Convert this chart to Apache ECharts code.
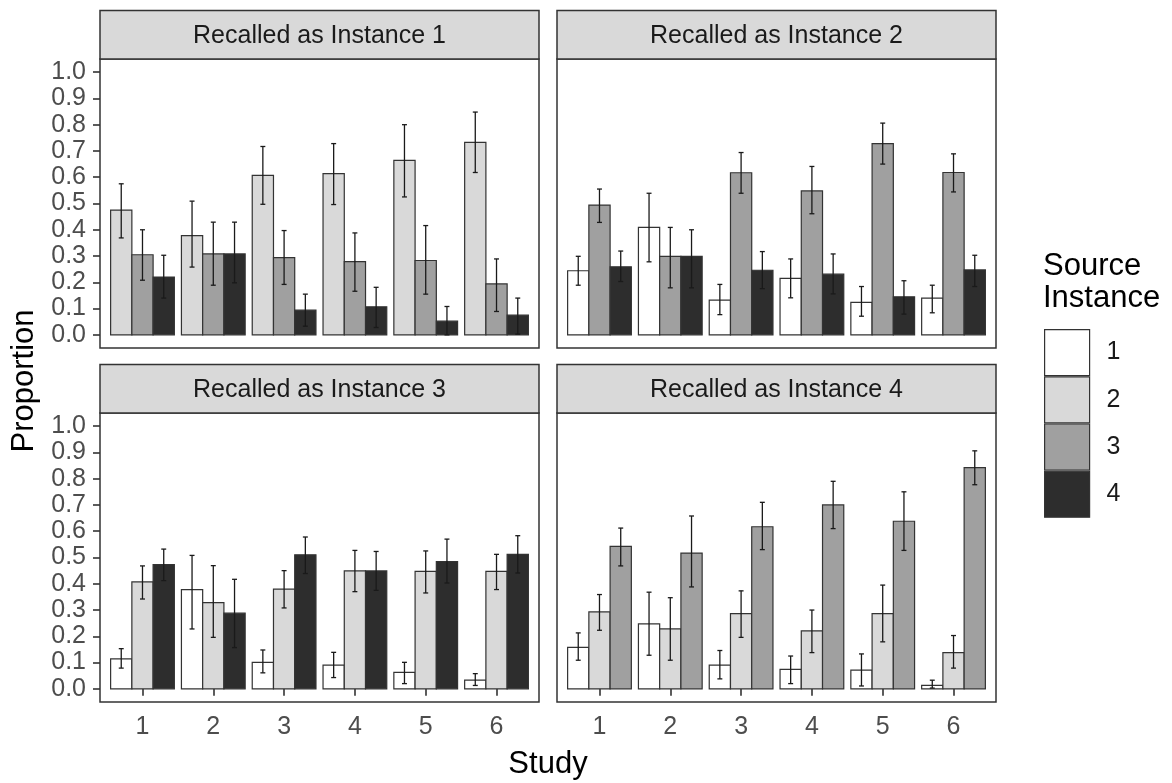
<!DOCTYPE html>
<html>
<head>
<meta charset="utf-8">
<script src="https://cdn.jsdelivr.net/npm/echarts@6/dist/echarts.min.js"></script>
<style>
html,body{margin:0;padding:0;background:#fff;}
#chart{width:1172px;height:783px;}
</style>
</head>
<body>
<div id="chart"></div>
<script>
// ---------- data ----------
const studies = ['1', '2', '3', '4', '5', '6'];
const studyValues = [1, 2, 3, 4, 5, 6];
const yTicks = [0, 0.1, 0.2, 0.3, 0.4, 0.5, 0.6, 0.7, 0.8, 0.9, 1.0];
const yTickLabels = ['0.0', '0.1', '0.2', '0.3', '0.4', '0.5', '0.6', '0.7', '0.8', '0.9', '1.0'];
const panelTitles = ['Recalled as Instance 1', 'Recalled as Instance 2', 'Recalled as Instance 3', 'Recalled as Instance 4'];
const sourceNames = ['1', '2', '3', '4'];
const sourceColors = ['#ffffff', '#d9d9d9', '#a0a0a0', '#2d2d2d'];

// Recalled as Instance 1 (sources 2, 3, 4)
const rec1Src2Mean = [0.475, 0.378, 0.607, 0.614, 0.664, 0.733];
const rec1Src2Lo   = [0.369, 0.258, 0.497, 0.496, 0.525, 0.618];
const rec1Src2Hi   = [0.575, 0.509, 0.717, 0.728, 0.800, 0.848];
const rec1Src3Mean = [0.305, 0.308, 0.294, 0.279, 0.283, 0.194];
const rec1Src3Lo   = [0.208, 0.189, 0.192, 0.166, 0.155, 0.089];
const rec1Src3Hi   = [0.400, 0.429, 0.397, 0.388, 0.416, 0.289];
const rec1Src4Mean = [0.220, 0.308, 0.094, 0.107, 0.052, 0.075];
const rec1Src4Lo   = [0.140, 0.198, 0.033, 0.028, 0.000, 0.003];
const rec1Src4Hi   = [0.303, 0.429, 0.155, 0.181, 0.108, 0.140];

// Recalled as Instance 2 (sources 1, 3, 4)
const rec2Src1Mean = [0.244, 0.409, 0.132, 0.215, 0.124, 0.140];
const rec2Src1Lo   = [0.189, 0.278, 0.077, 0.141, 0.071, 0.084];
const rec2Src1Hi   = [0.299, 0.539, 0.192, 0.289, 0.184, 0.189];
const rec2Src3Mean = [0.494, 0.299, 0.617, 0.548, 0.728, 0.618];
const rec2Src3Lo   = [0.428, 0.179, 0.539, 0.461, 0.650, 0.544];
const rec2Src3Hi   = [0.555, 0.409, 0.694, 0.641, 0.806, 0.689];
const rec2Src4Mean = [0.259, 0.299, 0.246, 0.231, 0.145, 0.247];
const rec2Src4Lo   = [0.203, 0.179, 0.176, 0.156, 0.079, 0.184];
const rec2Src4Hi   = [0.319, 0.400, 0.317, 0.308, 0.206, 0.303];

// Recalled as Instance 3 (sources 1, 2, 4)
const rec3Src1Mean = [0.114, 0.378, 0.101, 0.090, 0.063, 0.033];
const rec3Src1Lo   = [0.079, 0.228, 0.061, 0.043, 0.020, 0.013];
const rec3Src1Hi   = [0.153, 0.508, 0.148, 0.139, 0.101, 0.058];
const rec3Src2Mean = [0.407, 0.328, 0.380, 0.449, 0.447, 0.447];
const rec3Src2Lo   = [0.342, 0.196, 0.308, 0.370, 0.365, 0.378];
const rec3Src2Hi   = [0.468, 0.469, 0.450, 0.527, 0.525, 0.512];
const rec3Src4Mean = [0.473, 0.288, 0.510, 0.449, 0.484, 0.512];
const rec3Src4Lo   = [0.412, 0.157, 0.439, 0.375, 0.403, 0.441];
const rec3Src4Hi   = [0.532, 0.417, 0.578, 0.523, 0.570, 0.583];

// Recalled as Instance 4 (sources 1, 2, 3)
const rec4Src1Mean = [0.158, 0.247, 0.090, 0.074, 0.071, 0.013];
const rec4Src1Lo   = [0.109, 0.128, 0.038, 0.020, 0.011, 0.003];
const rec4Src1Hi   = [0.213, 0.368, 0.146, 0.125, 0.133, 0.033];
const rec4Src2Mean = [0.293, 0.228, 0.286, 0.221, 0.286, 0.138];
const rec4Src2Lo   = [0.223, 0.109, 0.196, 0.138, 0.179, 0.079];
const rec4Src2Hi   = [0.359, 0.347, 0.373, 0.300, 0.395, 0.203];
const rec4Src3Mean = [0.542, 0.517, 0.617, 0.700, 0.638, 0.842];
const rec4Src3Lo   = [0.468, 0.388, 0.530, 0.610, 0.527, 0.777];
const rec4Src3Hi   = [0.612, 0.658, 0.710, 0.790, 0.750, 0.906];

// ---------- assemble ----------
const panels = [
  { sources: [2, 3, 4], mean: [rec1Src2Mean, rec1Src3Mean, rec1Src4Mean], lo: [rec1Src2Lo, rec1Src3Lo, rec1Src4Lo], hi: [rec1Src2Hi, rec1Src3Hi, rec1Src4Hi] },
  { sources: [1, 3, 4], mean: [rec2Src1Mean, rec2Src3Mean, rec2Src4Mean], lo: [rec2Src1Lo, rec2Src3Lo, rec2Src4Lo], hi: [rec2Src1Hi, rec2Src3Hi, rec2Src4Hi] },
  { sources: [1, 2, 4], mean: [rec3Src1Mean, rec3Src2Mean, rec3Src4Mean], lo: [rec3Src1Lo, rec3Src2Lo, rec3Src4Lo], hi: [rec3Src1Hi, rec3Src2Hi, rec3Src4Hi] },
  { sources: [1, 2, 3], mean: [rec4Src1Mean, rec4Src2Mean, rec4Src3Mean], lo: [rec4Src1Lo, rec4Src2Lo, rec4Src3Lo], hi: [rec4Src1Hi, rec4Src2Hi, rec4Src3Hi] }
];

const FONT = '"Liberation Sans", Arial, sans-serif';
const SMALL = 25, LARGE = 31;
const panelLeft = [100, 557, 100, 557];
const panelTop = [59, 59, 413, 413];
const panelW = 439;
const panelH = 289;
const stripH = 48.5;

const dodge = 0.3;     // width of each bar (0.9 / 3)
const capHalf = 0.035; // errorbar half cap width in x units

const grids = [], xAxes = [], yAxes = [], series = [], graphics = [];

panels.forEach((p, pi) => {
  const isBottom = pi >= 2, isLeft = pi % 2 === 0;
  grids.push({ left: panelLeft[pi], top: panelTop[pi], width: panelW, height: panelH,
    show: true, borderColor: '#333333', borderWidth: 1.5, backgroundColor: '#ffffff' });
  xAxes.push({
    type: 'value', gridIndex: pi, min: 0.4, max: 6.6,
    axisLine: { show: false }, splitLine: { show: false },
    axisTick: { show: isBottom, length: 7, customValues: studyValues, lineStyle: { color: '#333333', width: 1.6 } },
    axisLabel: { show: isBottom, customValues: studyValues, margin: 13, fontSize: SMALL, color: '#4d4d4d', fontFamily: FONT,
      formatter: v => studies[Math.round(v) - 1] }
  });
  yAxes.push({
    type: 'value', gridIndex: pi, min: -0.05, max: 1.05,
    axisLine: { show: false }, splitLine: { show: false },
    axisTick: { show: isLeft, length: 7, customValues: yTicks, lineStyle: { color: '#333333', width: 1.6 } },
    axisLabel: { show: isLeft, customValues: yTicks, margin: 14, fontSize: SMALL, color: '#4d4d4d', fontFamily: FONT,
      formatter: v => yTickLabels[Math.round(v * 10)] }
  });

  // bars
  p.sources.forEach((src, k) => {
    const offset = (k - 1) * dodge;
    const fill = sourceColors[src - 1];
    series.push({
      type: 'custom', name: sourceNames[src - 1], xAxisIndex: pi, yAxisIndex: pi, z: 2,
      itemStyle: { color: fill, borderColor: '#333333', borderWidth: 1.2 },
      dimensions: ['study', 'value'], encode: { x: 0, y: 1 },
      data: studyValues.map((s, i) => [s, p.mean[k][i]]),
      renderItem: (params, api) => {
        const x = api.value(0) + offset;
        const a = api.coord([x - dodge / 2, api.value(1)]);
        const b = api.coord([x + dodge / 2, 0]);
        return { type: 'rect', shape: { x: a[0], y: a[1], width: b[0] - a[0], height: b[1] - a[1] },
          style: { fill: fill, stroke: '#333333', lineWidth: 1.2 } };
      }
    });
  });
  // error bars (drawn above all bars)
  p.sources.forEach((src, k) => {
    const offset = (k - 1) * dodge;
    series.push({
      type: 'custom', name: 'err' + pi + '_' + src, xAxisIndex: pi, yAxisIndex: pi, z: 3,
      dimensions: ['study', 'lo', 'hi'], encode: { x: 0, y: [1, 2] },
      data: studyValues.map((s, i) => [s, p.lo[k][i], p.hi[k][i]]),
      renderItem: (params, api) => {
        const x = api.value(0) + offset;
        const lo = api.coord([x, api.value(1)]);
        const hi = api.coord([x, api.value(2)]);
        const l = api.coord([x - capHalf, 0])[0];
        const r = api.coord([x + capHalf, 0])[0];
        const st = { stroke: '#1a1a1a', lineWidth: 1.3 };
        return { type: 'group', children: [
          { type: 'line', shape: { x1: lo[0], y1: lo[1], x2: hi[0], y2: hi[1] }, style: st },
          { type: 'line', shape: { x1: l, y1: lo[1], x2: r, y2: lo[1] }, style: st },
          { type: 'line', shape: { x1: l, y1: hi[1], x2: r, y2: hi[1] }, style: st }
        ] };
      }
    });
  });

  // strip
  graphics.push({ type: 'rect', shape: { x: panelLeft[pi], y: panelTop[pi] - stripH, width: panelW, height: stripH },
    style: { fill: '#d9d9d9', stroke: '#333333', lineWidth: 1.5 }, z: 10 });
  graphics.push({ type: 'text', x: panelLeft[pi] + panelW / 2, y: panelTop[pi] - stripH / 2 + 1,
    style: { text: panelTitles[pi], font: SMALL + 'px ' + FONT, fill: '#1a1a1a', textAlign: 'center', textVerticalAlign: 'middle' }, z: 11 });
});

graphics.push({ type: 'text', x: 24, y: 381, rotation: Math.PI / 2,
  style: { text: 'Proportion', font: LARGE + 'px ' + FONT, fill: '#000000', textAlign: 'center', textVerticalAlign: 'middle' } });
graphics.push({ type: 'text', x: 548, y: 764,
  style: { text: 'Study', font: LARGE + 'px ' + FONT, fill: '#000000', textAlign: 'center', textVerticalAlign: 'middle' } });

const chart = echarts.init(document.getElementById('chart'), null, { renderer: 'canvas' });
chart.setOption({
  animation: false,
  backgroundColor: '#ffffff',
  title: { text: 'Source\nInstance', left: 1043, top: 250, padding: 0,
    textStyle: { fontSize: LARGE, fontWeight: 'normal', color: '#000000', fontFamily: FONT, lineHeight: 32 } },
  legend: {
    orient: 'vertical', left: 1044, top: 329, padding: 0, itemWidth: 45, itemHeight: 46, itemGap: 0,
    icon: 'rect', selectedMode: false,
    data: sourceNames.map((n, i) => ({ name: n, itemStyle: { color: sourceColors[i], borderColor: '#333333', borderWidth: 1.2 } })),
    textStyle: { fontSize: SMALL, color: '#1a1a1a', fontFamily: FONT, padding: [0, 0, 0, 12] }
  },
  grid: grids, xAxis: xAxes, yAxis: yAxes, series: series, graphic: graphics
});
</script>
</body>
</html>
